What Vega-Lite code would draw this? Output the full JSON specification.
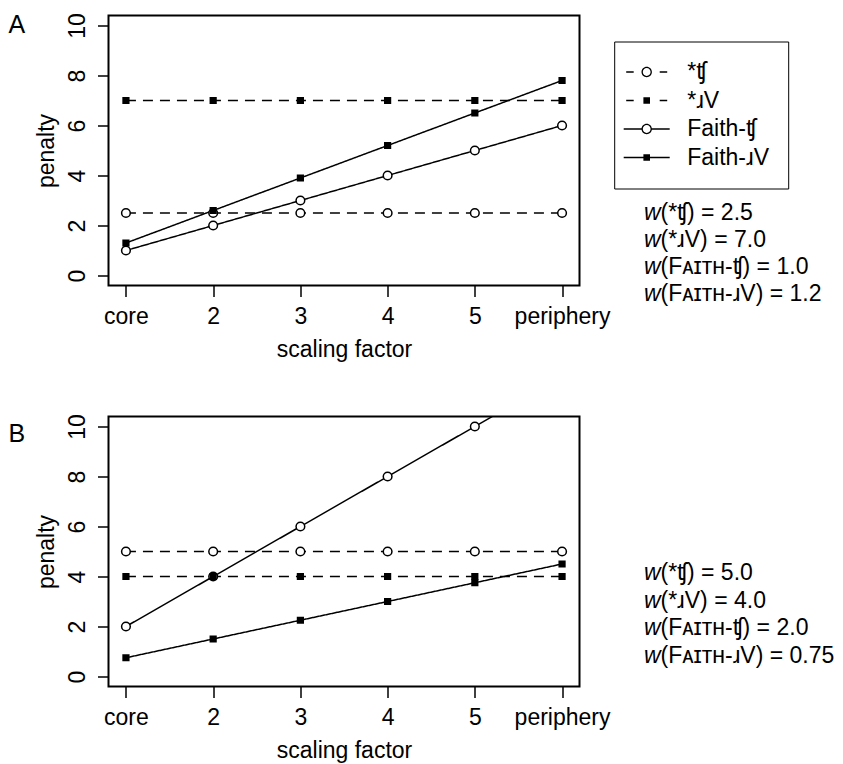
{
  "$schema": "https://vega.github.io/schema/vega-lite/v6.json",
  "padding": {"left": 7.5, "top": 11.5, "right": 5, "bottom": 3},
  "bounds": "flush",
  "columns": 2,
  "spacing": {"row": 131, "column": 80},
  "datasets": {
    "A": [
      {"factor": "core", "series": "*ʧ", "penalty": 2.5},
      {"factor": "2", "series": "*ʧ", "penalty": 2.5},
      {"factor": "3", "series": "*ʧ", "penalty": 2.5},
      {"factor": "4", "series": "*ʧ", "penalty": 2.5},
      {"factor": "5", "series": "*ʧ", "penalty": 2.5},
      {"factor": "periphery", "series": "*ʧ", "penalty": 2.5},
      {"factor": "core", "series": "*ɹV", "penalty": 7},
      {"factor": "2", "series": "*ɹV", "penalty": 7},
      {"factor": "3", "series": "*ɹV", "penalty": 7},
      {"factor": "4", "series": "*ɹV", "penalty": 7},
      {"factor": "5", "series": "*ɹV", "penalty": 7},
      {"factor": "periphery", "series": "*ɹV", "penalty": 7},
      {"factor": "core", "series": "Faith-ʧ", "penalty": 1},
      {"factor": "2", "series": "Faith-ʧ", "penalty": 2},
      {"factor": "3", "series": "Faith-ʧ", "penalty": 3},
      {"factor": "4", "series": "Faith-ʧ", "penalty": 4},
      {"factor": "5", "series": "Faith-ʧ", "penalty": 5},
      {"factor": "periphery", "series": "Faith-ʧ", "penalty": 6},
      {"factor": "core", "series": "Faith-ɹV", "penalty": 1.3},
      {"factor": "2", "series": "Faith-ɹV", "penalty": 2.6},
      {"factor": "3", "series": "Faith-ɹV", "penalty": 3.9},
      {"factor": "4", "series": "Faith-ɹV", "penalty": 5.2},
      {"factor": "5", "series": "Faith-ɹV", "penalty": 6.5},
      {"factor": "periphery", "series": "Faith-ɹV", "penalty": 7.8}
    ],
    "B": [
      {"factor": "core", "series": "*ʧ", "penalty": 5},
      {"factor": "2", "series": "*ʧ", "penalty": 5},
      {"factor": "3", "series": "*ʧ", "penalty": 5},
      {"factor": "4", "series": "*ʧ", "penalty": 5},
      {"factor": "5", "series": "*ʧ", "penalty": 5},
      {"factor": "periphery", "series": "*ʧ", "penalty": 5},
      {"factor": "core", "series": "*ɹV", "penalty": 4},
      {"factor": "2", "series": "*ɹV", "penalty": 4},
      {"factor": "3", "series": "*ɹV", "penalty": 4},
      {"factor": "4", "series": "*ɹV", "penalty": 4},
      {"factor": "5", "series": "*ɹV", "penalty": 4},
      {"factor": "periphery", "series": "*ɹV", "penalty": 4},
      {"factor": "core", "series": "Faith-ʧ", "penalty": 2},
      {"factor": "2", "series": "Faith-ʧ", "penalty": 4},
      {"factor": "3", "series": "Faith-ʧ", "penalty": 6},
      {"factor": "4", "series": "Faith-ʧ", "penalty": 8},
      {"factor": "5", "series": "Faith-ʧ", "penalty": 10},
      {"factor": "periphery", "series": "Faith-ʧ", "penalty": 12},
      {"factor": "core", "series": "Faith-ɹV", "penalty": 0.75},
      {"factor": "2", "series": "Faith-ɹV", "penalty": 1.5},
      {"factor": "3", "series": "Faith-ɹV", "penalty": 2.25},
      {"factor": "4", "series": "Faith-ɹV", "penalty": 3},
      {"factor": "5", "series": "Faith-ɹV", "penalty": 3.75},
      {"factor": "periphery", "series": "Faith-ɹV", "penalty": 4.5}
    ],
    "wA": [
      {"row": 1, "label": "(*ʧ) = 2.5"},
      {"row": 2, "label": "(*ɹV) = 7.0"},
      {"row": 3, "label": "(Fᴀɪᴛʜ-ʧ) = 1.0"},
      {"row": 4, "label": "(Fᴀɪᴛʜ-ɹV) = 1.2"}
    ],
    "wB": [
      {"row": 1, "label": "(*ʧ) = 5.0"},
      {"row": 2, "label": "(*ɹV) = 4.0"},
      {"row": 3, "label": "(Fᴀɪᴛʜ-ʧ) = 2.0"},
      {"row": 4, "label": "(Fᴀɪᴛʜ-ɹV) = 0.75"}
    ]
  },
  "concat": [
    {
      "width": 471,
      "height": 270,
      "title": {"text": "A", "anchor": "start", "frame": "group", "orient": "top", "fontSize": 25, "fontWeight": "normal", "baseline": "top", "align": "left", "dx": -100, "dy": 25, "offset": 0},
      "data": {"name": "A"},
      "encoding": {
        "x": {"field": "factor", "type": "ordinal", "sort": ["core", "2", "3", "4", "5", "periphery"], "scale": {"type": "point", "padding": 0.2}, "axis": {"title": "scaling factor"}},
        "y": {"field": "penalty", "type": "quantitative", "scale": {"domain": [-0.4, 10.4], "nice": false, "zero": false}, "axis": {"title": "penalty", "values": [0, 2, 4, 6, 8, 10]}}
      },
      "layer": [
        {
          "mark": {"type": "line", "color": "black", "strokeWidth": 1.5, "clip": true},
          "encoding": {
            "strokeDash": {"field": "series", "type": "nominal", "scale": {"domain": ["Faith-ʧ", "Faith-ɹV", "*ʧ", "*ɹV"], "range": [[1, 0], [1, 0], [10, 7], [10, 7]]}, "legend": null}
          }
        },
        {
          "transform": [{"filter": {"field": "series", "oneOf": ["*ʧ", "Faith-ʧ"]}}],
          "mark": {"type": "point", "shape": "circle", "filled": true, "fill": "white", "stroke": "black", "strokeWidth": 1.5, "size": 75, "opacity": 1, "clip": true}
        },
        {
          "transform": [{"filter": {"field": "series", "oneOf": ["*ɹV", "Faith-ɹV"]}}],
          "mark": {"type": "point", "shape": "square", "filled": true, "color": "black", "size": 52, "opacity": 1, "clip": true}
        },
        {
          "mark": {"type": "point", "filled": true, "color": "black", "size": 0.01},
          "encoding": {
            "shape": {
              "field": "series", "type": "nominal",
              "scale": {
                "domain": ["*ʧ", "*ɹV", "Faith-ʧ", "Faith-ɹV"],
                "range": [
                  "M-2.05,-0.07H-1.3V0.07H-2.05Z M1.3,-0.07H2.05V0.07H1.3Z M-0.52,0A0.52,0.52 0 1,1 0.52,0A0.52,0.52 0 1,1 -0.52,0Z M-0.39,0A0.39,0.39 0 1,0 0.39,0A0.39,0.39 0 1,0 -0.39,0Z",
                  "M-2.05,-0.07H-1.3V0.07H-2.05Z M1.3,-0.07H2.05V0.07H1.3Z M-0.33,-0.33H0.33V0.33H-0.33Z",
                  "M-2.3,-0.07H-0.5V0.07H-2.3Z M0.5,-0.07H2.3V0.07H0.5Z M-0.52,0A0.52,0.52 0 1,1 0.52,0A0.52,0.52 0 1,1 -0.52,0Z M-0.39,0A0.39,0.39 0 1,0 0.39,0A0.39,0.39 0 1,0 -0.39,0Z",
                  "M-2.3,-0.07H2.3V0.07H-2.3Z M-0.33,-0.33H0.33V0.33H-0.33Z"
                ]
              },
              "legend": {
                "title": null, "orient": "none", "legendX": 505.7, "legendY": 26,
                "padding": 19, "strokeColor": "black",
                "labelFontSize": 23, "labelFont": "Liberation Sans", "labelColor": "black", "labelLimit": 300,
                "symbolSize": 400, "symbolOpacity": 1, "symbolOffset": 2,
                "labelOffset": 29, "rowPadding": 4.5,
                "encode": {"legend": {"update": {"strokeWidth": {"value": 2}}}}
              }
            }
          }
        }
      ]
    },
    {
      "width": 2,
      "height": 270,
      "view": {"stroke": null},
      "data": {"name": "wA"},
      "encoding": {"y": {"field": "row", "type": "quantitative", "scale": {"domain": [1, 4], "range": [197.6, 278.6]}, "axis": null}},
      "layer": [
        {"mark": {"type": "text", "text": "w", "fontStyle": "italic", "align": "right", "baseline": "middle", "fontSize": 23, "color": "black"}},
        {"mark": {"type": "text", "align": "left", "baseline": "middle", "fontSize": 23, "color": "black"}, "encoding": {"text": {"field": "label"}}}
      ]
    },
    {
      "width": 471,
      "height": 270,
      "title": {"text": "B", "anchor": "start", "frame": "group", "orient": "top", "fontSize": 25, "fontWeight": "normal", "baseline": "top", "align": "left", "dx": -100, "dy": 33, "offset": 0},
      "data": {"name": "B"},
      "encoding": {
        "x": {"field": "factor", "type": "ordinal", "sort": ["core", "2", "3", "4", "5", "periphery"], "scale": {"type": "point", "padding": 0.2}, "axis": {"title": "scaling factor"}},
        "y": {"field": "penalty", "type": "quantitative", "scale": {"domain": [-0.4, 10.4], "nice": false, "zero": false}, "axis": {"title": "penalty", "values": [0, 2, 4, 6, 8, 10]}}
      },
      "layer": [
        {
          "mark": {"type": "line", "color": "black", "strokeWidth": 1.5, "clip": true},
          "encoding": {
            "strokeDash": {"field": "series", "type": "nominal", "scale": {"domain": ["Faith-ʧ", "Faith-ɹV", "*ʧ", "*ɹV"], "range": [[1, 0], [1, 0], [10, 7], [10, 7]]}, "legend": null}
          }
        },
        {
          "transform": [{"filter": {"field": "series", "oneOf": ["*ʧ", "Faith-ʧ"]}}],
          "mark": {"type": "point", "shape": "circle", "filled": true, "fill": "white", "stroke": "black", "strokeWidth": 1.5, "size": 75, "opacity": 1, "clip": true}
        },
        {
          "transform": [{"filter": {"field": "series", "oneOf": ["*ɹV", "Faith-ɹV"]}}],
          "mark": {"type": "point", "shape": "square", "filled": true, "color": "black", "size": 52, "opacity": 1, "clip": true}
        }
      ]
    },
    {
      "width": 2,
      "height": 270,
      "view": {"stroke": null},
      "data": {"name": "wB"},
      "encoding": {"y": {"field": "row", "type": "quantitative", "scale": {"domain": [1, 4], "range": [156.6, 239.3]}, "axis": null}},
      "layer": [
        {"mark": {"type": "text", "text": "w", "fontStyle": "italic", "align": "right", "baseline": "middle", "fontSize": 23, "color": "black"}},
        {"mark": {"type": "text", "align": "left", "baseline": "middle", "fontSize": 23, "color": "black"}, "encoding": {"text": {"field": "label"}}}
      ]
    }
  ],
  "config": {
    "font": "Liberation Sans",
    "background": "white",
    "view": {"stroke": "black", "strokeWidth": 2},
    "title": {"color": "black", "font": "Liberation Sans"},
    "text": {"font": "Liberation Sans"},
    "axis": {
      "domain": false, "grid": false,
      "tickColor": "black", "tickSize": 11, "tickWidth": 1.5,
      "labelFont": "Liberation Sans", "labelFontSize": 23, "labelColor": "black",
      "titleFont": "Liberation Sans", "titleFontSize": 23, "titleFontWeight": "normal", "titleColor": "black"
    },
    "axisX": {"labelAngle": 0, "labelPadding": 9, "titlePadding": 10},
    "axisY": {"labelAngle": 270, "labelAlign": "center", "labelBaseline": "alphabetic", "labelPadding": 13, "titlePadding": 8}
  }
}
